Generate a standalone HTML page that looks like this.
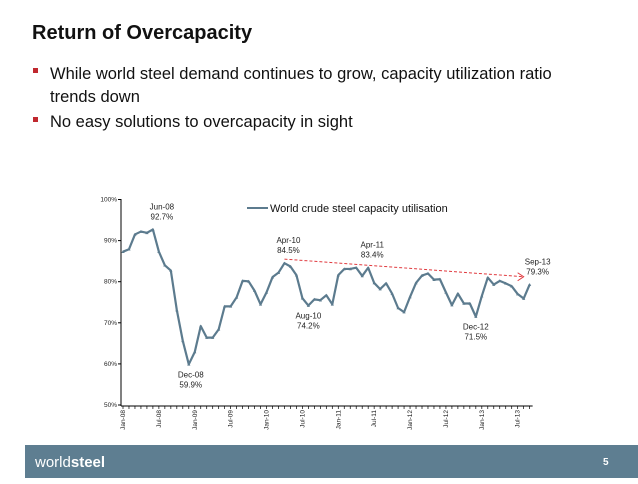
<!DOCTYPE html>
<html><head><meta charset="utf-8"><style>
body{margin:0;width:638px;height:479px;background:#fff;overflow:hidden;font-family:"Liberation Sans",sans-serif}
</style></head><body>
<svg width="638" height="479" xmlns="http://www.w3.org/2000/svg" font-family="Liberation Sans, sans-serif" id="root">
<text x="32" y="39" font-size="20" font-weight="bold" fill="#111">Return of Overcapacity</text>
<rect x="33" y="68" width="5" height="5" fill="#c0282e"/>
<text font-size="16.5" fill="#111"><tspan x="50" y="79">While world steel demand continues to grow,  capacity utilization ratio</tspan><tspan x="50" y="102">trends down</tspan></text>
<rect x="33" y="117" width="5" height="5" fill="#c0282e"/>
<text x="50" y="127" font-size="16.5" fill="#111">No easy solutions to overcapacity in sight</text>
<g id="chart"></g>
<rect x="25" y="445" width="613" height="33" fill="#5e7e91"/>
<text x="35" y="467" font-size="15" fill="#fff">world<tspan font-weight="bold">steel</tspan></text>
<text x="603" y="465" font-size="10" font-weight="bold" fill="#fff">5</text>
</svg>
<script>
const values=[87.3,87.9,91.5,92.2,91.9,92.7,87.3,84.0,82.7,73.1,65.6,59.9,
62.9,69.2,66.4,66.4,68.4,74.0,74.0,76.2,80.2,80.1,77.8,74.5,
77.4,81.1,82.2,84.5,83.7,81.6,76.0,74.2,75.7,75.5,76.7,74.5,
81.6,83.1,83.1,83.4,81.4,83.4,79.7,78.2,79.6,77.1,73.6,72.6,
76.3,79.7,81.5,82.0,80.5,80.6,77.4,74.3,77.1,74.7,74.7,71.5,
76.5,81.0,79.3,80.2,79.6,78.9,77.0,75.9,79.3];
const tickLabels=["Jan-08","Jul-08","Jan-09","Jul-09","Jan-10","Jul-10","Jan-11","Jul-11","Jan-12","Jul-12","Jan-13","Jul-13"];
const yTicks=[50,60,70,80,90,100];
const annotations=[[5,"Jun-08","92.7%",-1,9],[11,"Dec-08","59.9%",1,2],[27,"Apr-10","84.5%",-1,4],[31,"Aug-10","74.2%",1,0],[39,"Apr-11","83.4%",-1,16],[59,"Dec-12","71.5%",1,0],[68,"Sep-13","79.3%",-1,8]];
const trendStart=[27,85.5],trendEnd=[67,81.2];
const NS="http://www.w3.org/2000/svg";
const g=document.getElementById('chart');
const X=i=>123+i*5.98, Y=v=>199.5+(100-v)*4.11;
function mk(t,a,txt){const e=document.createElementNS(NS,t);for(const k in a)e.setAttribute(k,a[k]);if(txt!=null)e.textContent=txt;g.appendChild(e);return e;}
let e=mk('line',{x1:121,y1:199,x2:121,y2:406,stroke:'#000','stroke-width':1});


e=mk('line',{x1:121,y1:406,x2:X(values.length-1)+3,y2:406,stroke:'#000','stroke-width':1});


yTicks.forEach(v=>{const t=mk('text',{x:117,y:Y(v)+2,'font-size':6.5,'text-anchor':'end',fill:'#222'},v+'%');


mk('line',{x1:118,y1:Y(v),x2:121,y2:Y(v),stroke:'#000'});});
for(let i=0;i<values.length;i++){mk('line',{x1:X(i),y1:406,x2:X(i),y2:409,stroke:'#000','stroke-width':0.7});}
tickLabels.forEach((l,k)=>{const x=X(k*6)+2,y=410;const t=mk('text',{x:x,y:y,'font-size':6.5,'text-anchor':'end',fill:'#222',transform:`rotate(-90 ${x} ${y})`},l);

});
e=mk('line',{x1:X(trendStart[0]),y1:Y(trendStart[1]),x2:X(trendEnd[0]),y2:Y(trendEnd[1]),stroke:'#e0393e','stroke-width':1,'stroke-dasharray':'3,2'});


const ax=X(trendEnd[0]),ay=Y(trendEnd[1]);
mk('path',{d:`M${ax-6},${ay-4} L${ax},${ay} L${ax-6},${ay+4}`,fill:'none',stroke:'#e0393e','stroke-width':1});
e=mk('polyline',{points:values.map((v,i)=>X(i)+','+Y(v)).join(' '),fill:'none',stroke:'#5c7b8e','stroke-width':2.2,'stroke-linejoin':'round'});


values.forEach((v,i)=>{const p=mk('path',{d:`M${X(i)-1.6},${Y(v)+1.3} L${X(i)},${Y(v)-1.6} L${X(i)+1.6},${Y(v)+1.3}Z`,fill:'#5c7b8e'});

});
annotations.forEach(a=>{const x=X(a[0])+a[4],y=Y(values[a[0]]);const y0=a[3]<0?y-20:y+13;
const t1=mk('text',{x:x,y:y0,'font-size':8,'text-anchor':'middle',fill:'#222'},a[1]);


const t2=mk('text',{x:x,y:y0+10,'font-size':8,'text-anchor':'middle',fill:'#222'},a[2]);

});
mk('line',{x1:247,y1:208,x2:268,y2:208,stroke:'#5c7b8e','stroke-width':2});
e=mk('text',{x:270,y:212,'font-size':11,fill:'#111'},'World crude steel capacity utilisation');


</script>
</body></html>
